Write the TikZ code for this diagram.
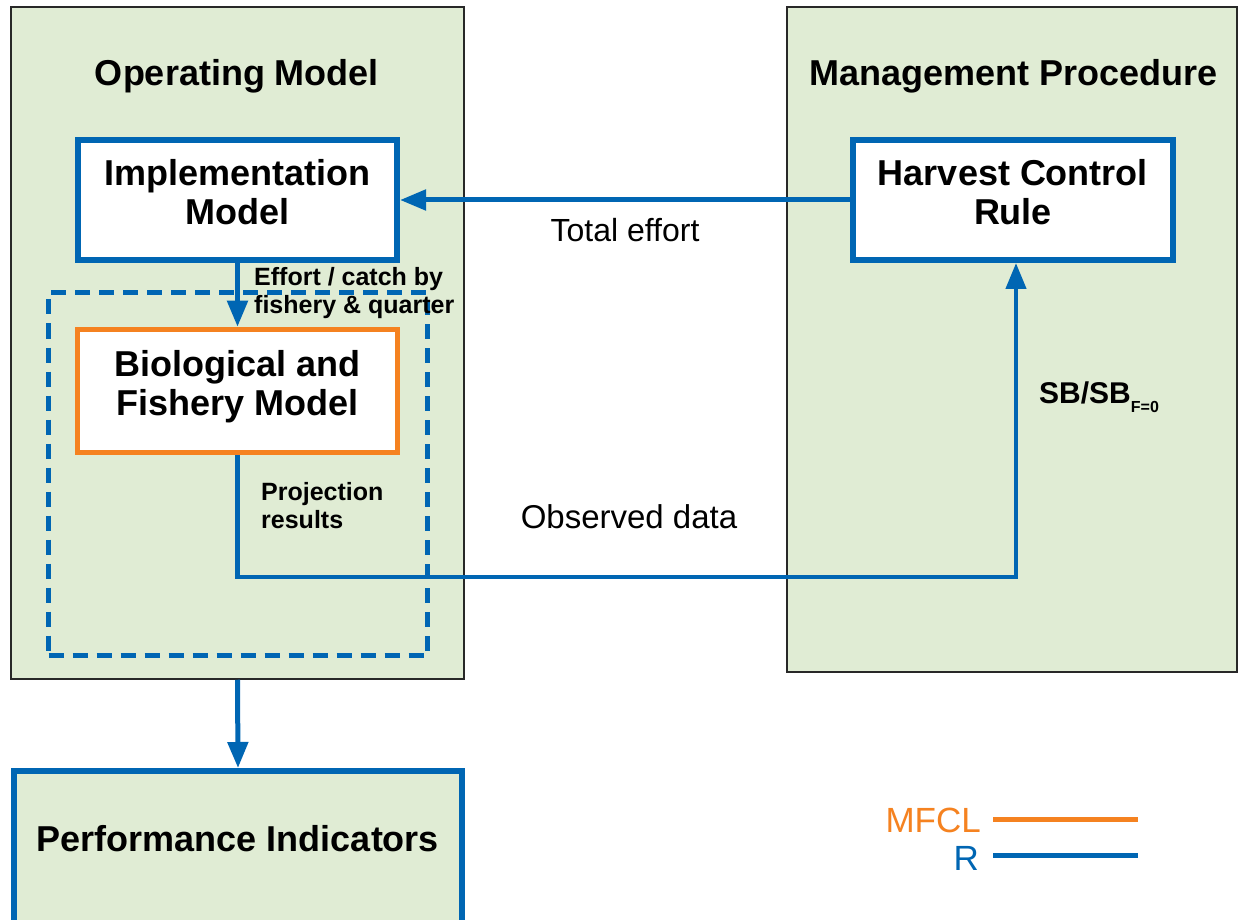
\documentclass[tikz,border=0pt]{standalone}
\usepackage{fontspec}
\setmainfont{Liberation Sans}
\usetikzlibrary{arrows.meta}
\definecolor{rblue}{RGB}{0,102,179}
\definecolor{morange}{RGB}{245,130,32}
\definecolor{pgreen}{RGB}{224,236,212}
\definecolor{frameclr}{RGB}{40,40,40}
\tikzset{
  panel/.style={draw=frameclr, line width=1.5pt, fill=pgreen, rectangle, inner sep=0pt},
  rbox/.style={draw=rblue, line width=6pt, fill=white, rectangle, align=center, inner sep=0pt,
     text depth=16pt, font=\bfseries\fontsize{36}{39}\selectfont},
  obox/.style={rbox, draw=morange, line width=5.5pt},
  titletext/.style={font=\bfseries\fontsize{36}{40}\selectfont, inner sep=0pt},
  smalltext/.style={font=\bfseries\fontsize{25}{28}\selectfont, align=left, inner sep=0pt},
  plaintext/.style={font=\fontsize{32}{34}\selectfont, inner sep=0pt},
  flow/.style={draw=rblue, line width=5pt, -{Triangle[width=20pt,length=26pt]}},
  legline/.style={line width=5pt},
}
\begin{document}
\begin{tikzpicture}[x=1pt,y=-1pt]
\useasboundingbox (0,0) rectangle (1243,920);
\clip (0,0) rectangle (1243,920);
\fill[white] (0,0) rectangle (1243,920);

% panels
\node[panel, minimum width=453pt, minimum height=672pt] (om) at (237.5,343) {};
\node[panel, minimum width=450pt, minimum height=665pt] (mp) at (1012,339.5) {};
\node[titletext] (omtitle) at (237,76) {Operating Model};
\node[titletext] (mptitle) at (1014,76) {Management Procedure};

% dashed simulation area
\node[draw=rblue, line width=5.5pt, dash pattern=on 15pt off 9pt, rectangle, inner sep=0pt,
      minimum width=379pt, minimum height=363pt] (sim) at (238,474) {};

% boxes
\node[rbox, minimum width=319pt, minimum height=120pt] (impl) at (237.5,200) {Implementation\\Model};
\node[obox, minimum width=320pt, minimum height=123pt] (bio) at (237.5,391) {Biological and\\Fishery Model};
\node[rbox, minimum width=320pt, minimum height=120pt] (hcr) at (1013,200) {Harvest Control\\Rule};

% performance indicators
\node[draw=rblue, line width=6pt, fill=pgreen, rectangle, inner sep=0pt,
      minimum width=448pt, minimum height=200pt] (pi) at (238,871) {};
\node[titletext] (pitext) at (238,839) {Performance Indicators};

% connectors
\draw[flow] (hcr.west) -- (impl.east);
\draw[flow] (impl.south) -- (bio.north);
\coordinate (obscorner) at (1016,577);
\draw[flow, line width=4.5pt] (bio.south) |- (obscorner) -- (hcr.south -| obscorner);
\draw[flow] (om.south) -- (pi.north);

% labels
\node[plaintext] (totaleffort) at (625,230) {Total effort};
\node[smalltext, anchor=west] (effortlbl) at (254,293) {Effort / catch by\\fishery \& quarter};
\node[smalltext, anchor=west] (projlbl) at (261,506) {Projection\\results};
\node[plaintext, font=\fontsize{33}{36}\selectfont] (obsdata) at (629,517) {Observed data};
\node[anchor=west, inner sep=0pt, font=\bfseries\fontsize{30}{32}\selectfont] (sbl) at (1039,397)
   {SB/SB\raisebox{-9pt}{\fontsize{16}{17}\selectfont F=0}};

% legend
\node[anchor=east, inner sep=0pt, text=morange, font=\fontsize{35}{38}\selectfont] (mfcl) at (981,820) {MFCL};
\node[anchor=east, inner sep=0pt, text=rblue, font=\fontsize{35}{38}\selectfont] (rlbl) at (979,858) {R};
\coordinate (l1a) at (993,819);
\coordinate (l1b) at (1138,819);
\coordinate (l2a) at (993,855);
\coordinate (l2b) at (1138,855);
\draw[legline, draw=morange] (l1a) -- (l1b);
\draw[legline, draw=rblue] (l2a) -- (l2b);
\end{tikzpicture}
\end{document}
